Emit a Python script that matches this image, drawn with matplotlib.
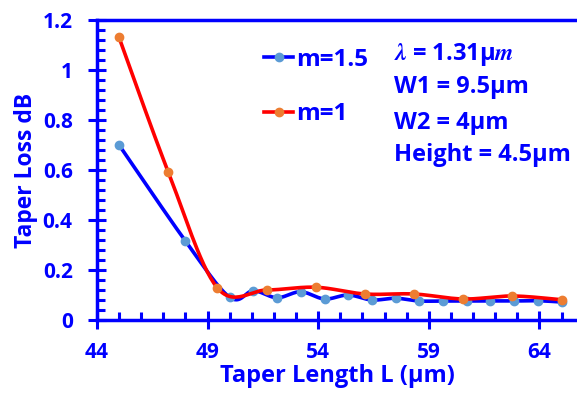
import numpy as np
import matplotlib
matplotlib.use("Agg")
import matplotlib.pyplot as plt
from matplotlib.lines import Line2D
from matplotlib.ticker import MultipleLocator

plt.rcParams['font.family'] = ['Open Sans', 'DejaVu Sans']
plt.rcParams['font.weight'] = 'bold'
plt.rcParams['mathtext.fontset'] = 'stix'

# Taper loss vs taper length, two taper shapes
len_m15 = [45, 48, 50.0, 51.07, 52.14, 53.21, 54.29, 55.36, 56.43, 57.5,
           58.57, 59.64, 60.71, 61.79, 62.86, 63.93, 65.0]
loss_m15 = [0.70, 0.316, 0.091, 0.117, 0.089, 0.113, 0.084, 0.100, 0.080, 0.087,
            0.076, 0.076, 0.076, 0.076, 0.076, 0.077, 0.072]

len_m1 = [45, 47.22, 49.44, 51.67, 53.89, 56.11, 58.33, 60.56, 62.78, 65.0]
loss_m1 = [1.13, 0.593, 0.129, 0.12, 0.131, 0.104, 0.104, 0.084, 0.096, 0.081]

y_ticks = [0, 0.2, 0.4, 0.6, 0.8, 1.0, 1.2]
y_labels = ['0', '0.2', '0.4', '0.6', '0.8', '1', '1.2']
x_ticks = [44, 49, 54, 59, 64]

notes = ["$\\lambda$ = 1.31\u03bc$m$", "W1 = 9.5\u03bcm", "W2 = 4\u03bcm", "Height = 4.5\u03bcm"]

BLUE = '#0000FF'


def smooth(x, y, n=30):
    # bezier smoothing through every point, like a spreadsheet "smoothed line"
    x = np.asarray(x, float)
    y = np.asarray(y, float)
    px = np.concatenate([[x[0]], x, [x[-1]]])
    py = np.concatenate([[y[0]], y, [y[-1]]])
    xs, ys = [], []
    t = np.linspace(0, 1, n)
    for i in range(1, len(px) - 2):
        p0 = np.array([px[i], py[i]])
        p3 = np.array([px[i + 1], py[i + 1]])
        c1 = p0 + (np.array([px[i + 1], py[i + 1]]) - np.array([px[i - 1], py[i - 1]])) / 6
        c2 = p3 - (np.array([px[i + 2], py[i + 2]]) - np.array([px[i], py[i]])) / 6
        b = ((1 - t) ** 3)[:, None] * p0 + (3 * (1 - t) ** 2 * t)[:, None] * c1 \
            + (3 * (1 - t) * t ** 2)[:, None] * c2 + (t ** 3)[:, None] * p3
        xs.append(b[:, 0])
        ys.append(b[:, 1])
    return np.concatenate(xs), np.concatenate(ys)


fig = plt.figure(figsize=(5.77, 3.99), dpi=100)
ax = fig.add_axes([0.168, 0.198, 0.832, 0.752])

sx, sy = smooth(len_m15, loss_m15)
ax.plot(sx, sy, color=BLUE, lw=2.6, zorder=3)
ax.plot(len_m15, loss_m15, 'o', color='#5B9BD5', ms=6, zorder=4)

sx, sy = smooth(len_m1, loss_m1)
ax.plot(sx, sy, color='#FF0000', lw=2.6, zorder=5)
ax.plot(len_m1, loss_m1, 'o', color='#ED7D31', ms=6, zorder=6)

ax.set_xticks(x_ticks)
ax.xaxis.set_minor_locator(MultipleLocator(1))
ax.set_yticks(y_ticks, y_labels)
ax.yaxis.set_minor_locator(MultipleLocator(0.04))
ax.set_xlim(44, 65.7)
ax.set_ylim(0, 1.2)

for s in ['left', 'bottom', 'top']:
    ax.spines[s].set_color(BLUE)
    ax.spines[s].set_linewidth(2.5)
ax.spines['right'].set_visible(False)

ax.tick_params(which='major', direction='inout', length=13, width=2.2, color=BLUE,
               labelcolor=BLUE, labelsize=15, pad=11)
ax.tick_params(which='minor', direction='in', length=6, width=2.2, color=BLUE)
ax.tick_params(axis='x', which='major', pad=9)
for lab in ax.get_xticklabels() + ax.get_yticklabels():
    lab.set_fontweight('bold')

ax.set_xlabel('Taper Length L (\u03bcm)', color=BLUE, fontsize=17, fontweight='bold', labelpad=1)
ax.set_ylabel('Taper Loss dB', color=BLUE, fontsize=16.5, fontweight='bold', labelpad=3)

handles = [Line2D([], [], color=BLUE, lw=2.6, marker='o', mfc='#5B9BD5', mec='#5B9BD5', ms=6),
           Line2D([], [], color='#FF0000', lw=2.6, marker='o', mfc='#ED7D31', mec='#ED7D31', ms=6)]
leg = ax.legend(handles, ['m=1.5', 'm=1'], loc='upper left', bbox_to_anchor=(0.303, 0.98),
                frameon=False, handlelength=1.2, handletextpad=0.1, labelspacing=1.25,
                prop={'size': 17.5, 'weight': 'bold'}, markerscale=1, numpoints=1)
for t in leg.get_texts():
    t.set_color(BLUE)

ys = [0.885, 0.775, 0.658, 0.55]
for s, yy in zip(notes, ys):
    ax.text(0.618, yy, s, transform=ax.transAxes, color=BLUE, fontsize=17,
            fontweight='bold', va='center', ha='left')

fig.savefig('out.png', dpi=100)
